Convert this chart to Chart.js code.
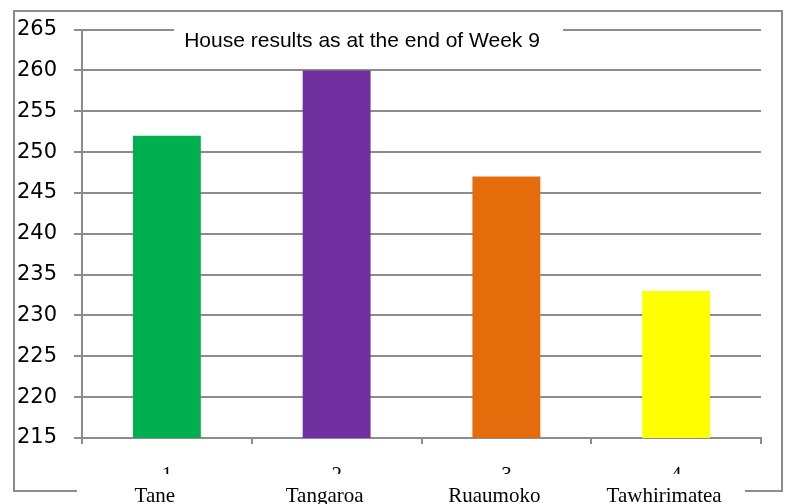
<!DOCTYPE html>
<html>
<head>
<meta charset="utf-8">
<script src="https://cdn.jsdelivr.net/npm/chart.js@4/dist/chart.umd.min.js"></script>
<style>
  html, body { margin: 0; padding: 0; background: #fff; }
  #wrap { width: 785px; height: 504px; }
</style>
</head>
<body>
<div id="wrap"><canvas id="chart" width="785" height="504"></canvas></div>
<script>
// chart data
const categories = ['Tane', 'Tangaroa', 'Ruaumoko', 'Tawhirimatea'];
const tickNumbers = ['1', '2', '3', '4'];
const points = [252, 260, 247, 233];
const barColors = ['#00b050', '#7030a0', '#e46c0a', '#ffff00'];
const yMin = 215, yMax = 265, yStep = 5;
const titleText = 'House results as at the end of Week 9';

const lineGray = '#8c8c8c';

// outer frame, title box inside plot, category names under the numbers
const decorations = {
  id: 'decorations',
  beforeDraw(chart) {
    const ctx = chart.ctx;
    ctx.save();
    ctx.fillStyle = '#fff';
    ctx.fillRect(0, 0, chart.width, chart.height);
    ctx.strokeStyle = lineGray;
    ctx.lineWidth = 2;
    ctx.strokeRect(14, 11, 768, 480);
    ctx.restore();
  },
  afterDraw(chart) {
    const ctx = chart.ctx;
    const xs = chart.scales.x;
    ctx.save();
    // title with its white box
    ctx.font = '21px "Liberation Sans", Arial, sans-serif';
    ctx.fillStyle = '#fff';
    ctx.fillRect(174, 18, 389, 40);
    ctx.fillStyle = '#000';
    ctx.textAlign = 'center';
    ctx.textBaseline = 'alphabetic';
    ctx.fillText(titleText, 362, 47);
    // band with category names
    ctx.fillStyle = '#fff';
    ctx.fillRect(77, 474, 668, 30);
    ctx.fillStyle = '#000';
    ctx.font = '21px "Liberation Serif", "Times New Roman", serif';
    categories.forEach((name, i) => {
      ctx.fillText(name, xs.getPixelForValue(i) - 12, 502);
    });
    ctx.restore();
  }
};

new Chart(document.getElementById('chart').getContext('2d'), {
  type: 'bar',
  data: {
    labels: tickNumbers,
    datasets: [{
      data: points,
      backgroundColor: barColors,
      borderWidth: 0,
      barPercentage: 0.4,
      categoryPercentage: 1.0
    }]
  },
  options: {
    responsive: false,
    animation: false,
    layout: { padding: { top: 26, right: 24, left: 0, bottom: 0 } },
    plugins: {
      legend: { display: false },
      title: { display: false },
      tooltip: { enabled: false }
    },
    scales: {
      x: {
        afterFit(scale) { scale.height = 66; },
        grid: {
          offset: true,
          drawOnChartArea: false,
          drawTicks: true,
          tickLength: 6,
          color: lineGray,
          lineWidth: 2
        },
        border: { display: true, color: lineGray, width: 2 },
        ticks: {
          color: '#000',
          padding: 19,
          font: { family: '"Liberation Serif", "Times New Roman", serif', size: 21 }
        }
      },
      y: {
        min: yMin,
        max: yMax,
        afterFit(scale) { scale.width = 82; },
        grid: {
          color: lineGray,
          lineWidth: 2,
          tickLength: 8
        },
        border: { display: true, color: lineGray, width: 2 },
        ticks: {
          stepSize: yStep,
          color: '#000',
          padding: 17,
          font: { family: '"DejaVu Sans", sans-serif', size: 21 }
        }
      }
    }
  },
  plugins: [decorations]
});
</script>
</body>
</html>
